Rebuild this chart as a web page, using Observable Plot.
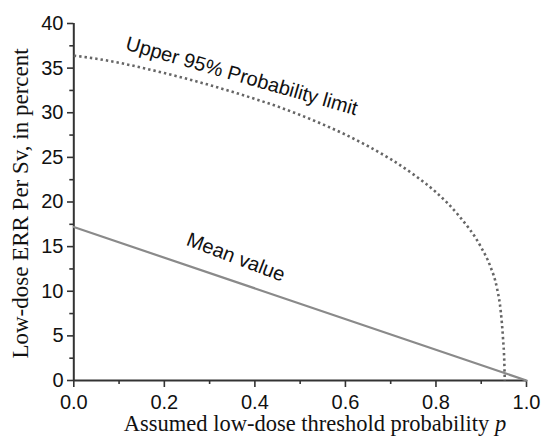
<!DOCTYPE html>
<html>
<head>
<meta charset="utf-8">
<script src="https://cdn.jsdelivr.net/npm/d3@7"></script>
<script src="https://cdn.jsdelivr.net/npm/@observablehq/plot@0.6"></script>
<style>
  html, body { margin: 0; padding: 0; background: white; }
</style>
</head>
<body>
<div id="chart"></div>
<script>
// Upper 95% probability limit (dotted curve)
const pUpper   = [0, 0.05, 0.1, 0.15, 0.2, 0.25, 0.3, 0.35, 0.4, 0.45, 0.5, 0.55, 0.6, 0.65, 0.7, 0.75, 0.8, 0.85, 0.9, 0.92, 0.935, 0.943, 0.948, 0.951, 0.952];
const errUpper = [36.4, 36.05, 35.6, 35.05, 34.45, 33.8, 33.1, 32.35, 31.55, 30.7, 29.75, 28.7, 27.55, 26.25, 24.8, 23.1, 21.1, 18.5, 14.9, 12.8, 10.3, 7.8, 4.8, 2.0, 0];
// Mean value (solid line)
const pMean   = [0, 1];
const errMean = [17.2, 0];
// Ticks
const xMajor = [0, 0.2, 0.4, 0.6, 0.8, 1.0];
const xMinor = [0.1, 0.3, 0.5, 0.7, 0.9];
const yMajor = [0, 5, 10, 15, 20, 25, 30, 35, 40];
const yMinor = [2.5, 7.5, 12.5, 17.5, 22.5, 27.5, 32.5, 37.5];
// Labels
const labelText = ["Upper 95% Probability limit", "Mean value"];
const labelP    = [0.371, 0.358];
const labelErr  = [34.1, 13.8];
const labelRot  = [16, 21];
const xTitle = "Assumed low-dose threshold probability ";
const xTitleItalic = "p";
const yTitle = "Low-dose ERR Per Sv, in percent";

const upper = pUpper.map((p, i) => ({p, v: errUpper[i]}));
const mean = pMean.map((p, i) => ({p, v: errMean[i]}));
const labels = labelText.map((t, i) => ({t, p: labelP[i], v: labelErr[i], r: labelRot[i]}));

const axisColor = "#333";
const sans = "'Liberation Sans', Arial, Helvetica, sans-serif";
const serif = "'Liberation Serif', 'Times New Roman', serif";

const chart = Plot.plot({
  width: 542,
  height: 445,
  marginLeft: 73.3,
  marginRight: 16,
  marginTop: 23,
  marginBottom: 65,
  x: {domain: [0, 1]},
  y: {domain: [0, 40]},
  style: {fontFamily: sans, fontSize: "20px", color: axisColor, background: "white"},
  marks: [
    Plot.axisY({ticks: yMajor, tickSize: 6.3, tickPadding: 4, tickFormat: d => String(d), label: null, fontSize: 20, strokeWidth: 1.6, stroke: axisColor, fill: "#111"}),
    Plot.axisY({ticks: yMinor, tickSize: 4, tickFormat: () => "", label: null, strokeWidth: 1.6, stroke: axisColor}),
    Plot.axisX({ticks: xMajor, tickSize: 7, tickPadding: 7, tickFormat: d3.format(".1f"), label: null, fontSize: 20, strokeWidth: 1.6, stroke: axisColor, fill: "#111"}),
    Plot.axisX({ticks: xMinor, tickSize: 4, tickFormat: () => "", label: null, strokeWidth: 1.6, stroke: axisColor}),
    Plot.ruleX([0], {stroke: axisColor, strokeWidth: 2}),
    Plot.ruleY([0], {stroke: axisColor, strokeWidth: 2}),
    Plot.line(mean, {x: "p", y: "v", stroke: "#8a8a8a", strokeWidth: 2.2}),
    Plot.line(upper, {x: "p", y: "v", stroke: "#666", strokeWidth: 2.6, strokeDasharray: "2.4 3", strokeLinecap: "butt", curve: "monotone-x"}),
    Plot.text(labels, {x: "p", y: "v", text: "t", rotate: "r", fontSize: 20, fill: "#111", fontFamily: sans})
  ]
});

const svg = d3.select(chart);
svg.append("text")
  .attr("transform", "translate(28.3,203.5) rotate(-90)")
  .attr("text-anchor", "middle")
  .style("font-family", serif)
  .style("font-size", "23px")
  .attr("fill", "#111")
  .text(yTitle);
const xt = svg.append("text")
  .attr("x", 315)
  .attr("y", 431)
  .attr("text-anchor", "middle")
  .style("font-family", serif)
  .style("font-size", "22.5px")
  .attr("fill", "#111");
xt.append("tspan").text(xTitle);
xt.append("tspan").style("font-style", "italic").text(xTitleItalic);

document.getElementById("chart").appendChild(chart);
</script>
</body>
</html>
